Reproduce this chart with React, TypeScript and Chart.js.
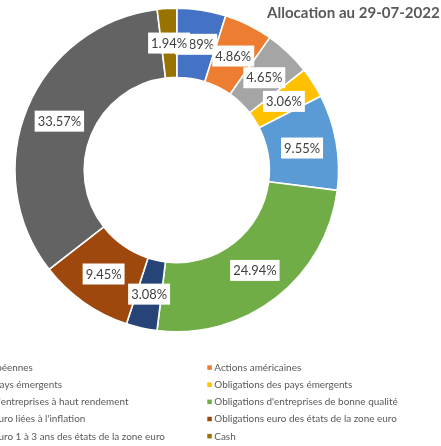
import React, { useEffect, useRef } from "react";
import { Chart, registerables } from "chart.js";

Chart.register(...registerables);

const TITLE = "Allocation au 29-07-2022";

const categories: string[] = [
  "Actions européennes",
  "Actions américaines",
  "Actions des pays émergents",
  "Obligations des pays émergents",
  "Obligations d'entreprises à haut rendement",
  "Obligations d'entreprises de bonne qualité",
  "Obligations euro liées à l'inflation",
  "Obligations euro des états de la zone euro",
  "Obligations euro 1 à 3 ans des états de la zone euro",
  "Cash",
];

const allocation: number[] = [4.89, 4.86, 4.65, 3.06, 9.55, 24.94, 3.08, 9.45, 33.57, 1.94];

const colors: string[] = [
  "#4472C4",
  "#ED7D31",
  "#A5A5A5",
  "#FFC000",
  "#5B9BD5",
  "#70AD47",
  "#264478",
  "#9E480E",
  "#636363",
  "#997300",
];

const FONT = "Lato, 'Open Sans', sans-serif";

// scale a font size so that a sample string takes a target width (Calibri-like metrics)
function fitSize(ctx: CanvasRenderingContext2D, weight: string, base: number, sample: string, target: number) {
  ctx.font = `${weight} ${base}px ${FONT}`;
  const w = ctx.measureText(sample).width;
  return w > 0 ? (base * target) / w : base;
}

const labelsPlugin = {
  id: "boxLabels",
  afterDatasetsDraw(chart: any) {
    const ctx = chart.ctx;
    const meta = chart.getDatasetMeta(0);
    const values = chart.data.datasets[0].data as number[];
    ctx.save();
    const size = fitSize(ctx, "normal", 14, "33.57%", 43.5);
    ctx.font = `normal ${size}px ${FONT}`;
    ctx.textAlign = "center";
    ctx.textBaseline = "middle";
    meta.data.forEach((arc: any, i: number) => {
      const p = arc.getCenterPoint();
      const txt = values[i].toFixed(2) + "%";
      const w = ctx.measureText(txt).width + 6;
      const h = 21;
      ctx.fillStyle = "#FFFFFF";
      ctx.fillRect(p.x - w / 2, p.y - h / 2, w, h);
      ctx.fillStyle = "#404040";
      ctx.fillText(txt, p.x, p.y + 0.5);
    });
    ctx.restore();
  },
};

const legendTitlePlugin = {
  id: "customLegendTitle",
  afterDraw(chart: any) {
    const ctx = chart.ctx;
    const labels = chart.data.labels as string[];
    const bg = chart.data.datasets[0].backgroundColor as string[];
    ctx.save();
    // title
    const tSize = fitSize(ctx, "bold", 16, TITLE, 173);
    ctx.font = `bold ${tSize}px ${FONT}`;
    ctx.fillStyle = "#595959";
    ctx.textAlign = "left";
    ctx.textBaseline = "middle";
    ctx.fillText(TITLE, 267, 13.5);
    // legend
    const lSize = fitSize(ctx, "normal", 10.5, "Actions américaines", 87);
    ctx.font = `normal ${lSize}px ${FONT}`;
    const colX = [-66, 207.3];
    const rowY0 = 367.8;
    const rowStep = 17.15;
    labels.forEach((lab, i) => {
      const col = i % 2;
      const row = Math.floor(i / 2);
      const x = colX[col];
      const y = rowY0 + row * rowStep;
      ctx.fillStyle = bg[i];
      ctx.fillRect(x, y - 2.5, 4.5, 4.5);
      ctx.fillStyle = "#595959";
      ctx.fillText(lab, x + 7, y);
    });
    ctx.restore();
  },
};

export default function App() {
  const ref = useRef<HTMLCanvasElement | null>(null);
  useEffect(() => {
    if (!ref.current) return;
    const chart = new Chart(ref.current, {
      type: "doughnut",
      data: {
        labels: categories,
        datasets: [
          {
            data: allocation,
            backgroundColor: colors,
            borderColor: "#FFFFFF",
            borderWidth: 1.6,
            radius: 161.8,
            cutout: 96.8,
          } as any,
        ],
      },
      options: {
        responsive: false,
        animation: false,
        devicePixelRatio: 1,
        layout: { padding: { left: 0, top: 0, right: 87.4, bottom: 106 } },
        plugins: {
          legend: { display: false },
          title: { display: false },
          tooltip: { enabled: false },
        },
      },
      plugins: [labelsPlugin, legendTitlePlugin],
    });
    return () => chart.destroy();
  }, []);
  return (
    <div style={{ position: "absolute", left: 0, top: 0, width: 441, height: 446, background: "#fff" }}>
      <canvas ref={ref} width={441} height={446} style={{ display: "block" }} />
    </div>
  );
}
